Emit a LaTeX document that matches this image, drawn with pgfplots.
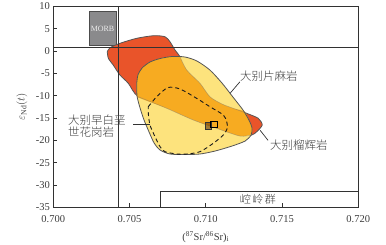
\documentclass[border=0pt]{standalone}
\usepackage{pgfplots}
\pgfplotsset{compat=1.18}
\usepackage{fontspec}
\setmainfont{Liberation Serif}
\newfontfamily\cjk{Noto Sans CJK SC Light}
\definecolor{redc}{RGB}{233,84,42}
\definecolor{yelc}{RGB}{253,227,125}
\definecolor{orac}{RGB}{247,171,33}
\definecolor{edgec}{RGB}{85,85,85}
\definecolor{morbc}{RGB}{138,138,140}
\definecolor{framec}{RGB}{50,50,50}
\definecolor{textc}{RGB}{60,60,60}
\begin{document}
\begin{tikzpicture}
\path[use as bounding box] (-53.3pt,-37.7pt) rectangle (332.7pt,207.3pt);
\begin{axis}[
  at={(0,0)}, anchor=south west,
  scale only axis, width=305pt, height=200.8pt,
  xmin=0.700, xmax=0.720, ymin=-35, ymax=10,
  xtick={0.700,0.705,0.710,0.715,0.720},
  ytick={-35,-30,-25,-20,-15,-10,-5,0,5,10},
  xtick pos=bottom, ytick pos=left,
  tick align=inside, major tick length=4pt,
  tick style={framec, line width=0.8pt},
  axis line style={framec, line width=0.9pt},
  /pgf/number format/assume math mode=true,
  xticklabel style={/pgf/number format/.cd, fixed, fixed zerofill, precision=3, /tikz/.cd, font=\fontsize{10.5}{12}\selectfont, text=textc, yshift=-5pt},
  yticklabel style={font=\fontsize{10.5}{12}\selectfont, text=textc},
  scaled x ticks=false,
  xlabel={(\textsuperscript{87}Sr/\textsuperscript{86}Sr)\textsubscript{i}},
  xlabel style={at={(axis description cs:0.5,-0.148)}, anchor=center, font=\fontsize{10.5}{12}\selectfont, text=textc},
  ylabel={$\varepsilon_{\mathrm{Nd}}(t)$},
  ylabel style={at={(axis description cs:-0.1026,0.5)}, anchor=center, font=\fontsize{11}{12}\selectfont, text=textc},
  clip=false
]
% MORB box
\addplot[fill=morbc, draw=black!70, line width=0.6pt] coordinates {(0.70234,1.21) (0.70411,1.21) (0.70411,8.83) (0.70234,8.83)} -- cycle;
\node[text=white!85!gray, font=\fontsize{8}{9}\selectfont] at (axis cs:0.70323,5.0) {MORB};
% red shape (Dabie eclogite)
\addplot[fill=redc, draw=edgec, line width=0.8pt, smooth, tension=0.45] coordinates {
(0.70354,-0.13) (0.70372,0.76) (0.70437,1.75) (0.70547,2.87) (0.70656,3.45) (0.70732,3.23) (0.70765,2.11) (0.70798,0.25) (0.70831,-1.25) (0.70875,-4.24) (0.70962,-7.22) (0.71027,-10.22) (0.71106,-11.85) (0.71180,-12.82) (0.71268,-13.94) (0.71344,-15.06) (0.71370,-16.56) (0.71334,-18.06) (0.71301,-18.80) (0.71224,-19.03) (0.71071,-17.30) (0.70918,-15.44) (0.70744,-12.82) (0.70557,-10.22) (0.70492,-7.22) (0.70437,-5.36) (0.70393,-3.12) (0.70361,-1.61) (0.70354,-0.13)} -- cycle;
% yellow shape (Dabie gneiss)
\addplot[fill=yelc, draw=none, smooth, tension=0.45] coordinates {
(0.70547,-7.22) (0.70555,-5.36) (0.70582,-3.79) (0.70634,-2.44) (0.70700,-1.66) (0.70778,-1.21) (0.70864,-1.32) (0.70942,-2.22) (0.71027,-4.24) (0.71106,-7.15) (0.71178,-10.29) (0.71244,-13.20) (0.71283,-15.44) (0.71303,-17.23) (0.71297,-18.80) (0.71258,-20.15) (0.71172,-21.27) (0.71061,-22.39) (0.70962,-23.06) (0.70864,-23.17) (0.70765,-23.06) (0.70700,-22.16) (0.70661,-20.59) (0.70628,-18.13) (0.70595,-15.44) (0.70569,-12.75) (0.70549,-10.06) (0.70547,-7.22)} -- cycle;
% orange overlap
\addplot[fill=orac, draw=none, smooth, tension=0.45] coordinates {
(0.70831,-1.30) (0.70875,-4.24) (0.70962,-7.22) (0.71027,-10.22) (0.71106,-11.85) (0.71180,-12.82) (0.71254,-13.54) (0.71283,-15.44) (0.71303,-17.23) (0.71300,-18.58) (0.71224,-19.03) (0.71071,-17.30) (0.70918,-15.44) (0.70744,-12.82) (0.70565,-10.51) (0.70549,-10.06) (0.70547,-7.22) (0.70555,-5.36) (0.70582,-3.79) (0.70634,-2.44) (0.70700,-1.66) (0.70778,-1.21) (0.70831,-1.30)} -- cycle;
% faint red outline seen through yellow
\addplot[draw=black!55, draw opacity=0.45, line width=0.6pt, smooth, tension=0.45] coordinates {
(0.70831,-1.25) (0.70875,-4.24) (0.70962,-7.22) (0.71027,-10.22) (0.71106,-11.85) (0.71180,-12.82) (0.71268,-13.94)};
\addplot[draw=black!55, draw opacity=0.45, line width=0.6pt, smooth, tension=0.45] coordinates {
(0.71301,-18.80) (0.71224,-19.03) (0.71071,-17.30) (0.70918,-15.44) (0.70744,-12.82) (0.70557,-10.22)};
% yellow outline
\addplot[draw=edgec, line width=0.8pt, smooth, tension=0.45] coordinates {
(0.70547,-7.22) (0.70555,-5.36) (0.70582,-3.79) (0.70634,-2.44) (0.70700,-1.66) (0.70778,-1.21) (0.70864,-1.32) (0.70942,-2.22) (0.71027,-4.24) (0.71106,-7.15) (0.71178,-10.29) (0.71244,-13.20) (0.71283,-15.44) (0.71303,-17.23) (0.71297,-18.80) (0.71258,-20.15) (0.71172,-21.27) (0.71061,-22.39) (0.70962,-23.06) (0.70864,-23.17) (0.70765,-23.06) (0.70700,-22.16) (0.70661,-20.59) (0.70628,-18.13) (0.70595,-15.44) (0.70569,-12.75) (0.70549,-10.06) (0.70547,-7.22)} -- cycle;
% dashed granite field
\addplot[draw=black!90, line width=0.9pt, dash pattern=on 4pt off 3pt, smooth, tension=0.45] coordinates {
(0.70623,-12.46) (0.70678,-10.22) (0.70752,-8.16) (0.70831,-8.49) (0.70940,-10.58) (0.71027,-12.46) (0.71115,-14.32) (0.71137,-15.82) (0.71141,-17.30) (0.71115,-18.80) (0.71049,-20.66) (0.70962,-22.54) (0.70875,-23.06) (0.70810,-23.06) (0.70732,-22.54) (0.70700,-21.42) (0.70667,-19.18) (0.70634,-16.56) (0.70623,-13.94) (0.70623,-12.46)};
% reference lines
\addplot[framec, line width=0.9pt] coordinates {(0.700,0.76) (0.720,0.76)};
\addplot[framec, line width=0.9pt] coordinates {(0.70426,-35) (0.70426,10)};
% Kongling group box
\addplot[framec, line width=0.8pt] coordinates {(0.70700,-35) (0.70700,-31.5) (0.720,-31.5)};
\node[text=textc, font=\cjk\fontsize{11}{12}\selectfont] at (axis cs:0.71342,-33.3) {崆\kern1.5pt 岭\kern1.5pt 群};
% sample points
\addplot[only marks, mark=square*, mark size=3.3pt, mark options={fill=black!60!orange, fill opacity=0.6, draw=black!80, line width=0.6pt}] coordinates {(0.71016,-16.74)};
\addplot[only marks, mark=square, mark size=3.3pt, mark options={draw=black, line width=0.7pt}] coordinates {(0.71054,-16.45)};
% leaders
\addplot[framec, line width=0.7pt] coordinates {(0.71224,-6.86) (0.71159,-9.46)};
\addplot[framec, line width=0.7pt] coordinates {(0.71408,-19.99) (0.71356,-17.73)};
\addplot[framec, line width=0.7pt] coordinates {(0.70525,-16.34) (0.70634,-16.34)};
% labels
\node[text=textc, font=\cjk\fontsize{11.5}{12}\selectfont] at (axis cs:0.71414,-5.58) {大别片麻岩};
\node[text=textc, font=\cjk\fontsize{11.5}{12}\selectfont] at (axis cs:0.71611,-21.04) {大别榴辉岩};
\node[text=textc, font=\cjk\fontsize{11.5}{11.7}\selectfont, anchor=west, align=left, inner sep=0pt] at (axis cs:0.70096,-16.79) {大别早白垩\\世花岗岩};
\end{axis}
\end{tikzpicture}
\end{document}
